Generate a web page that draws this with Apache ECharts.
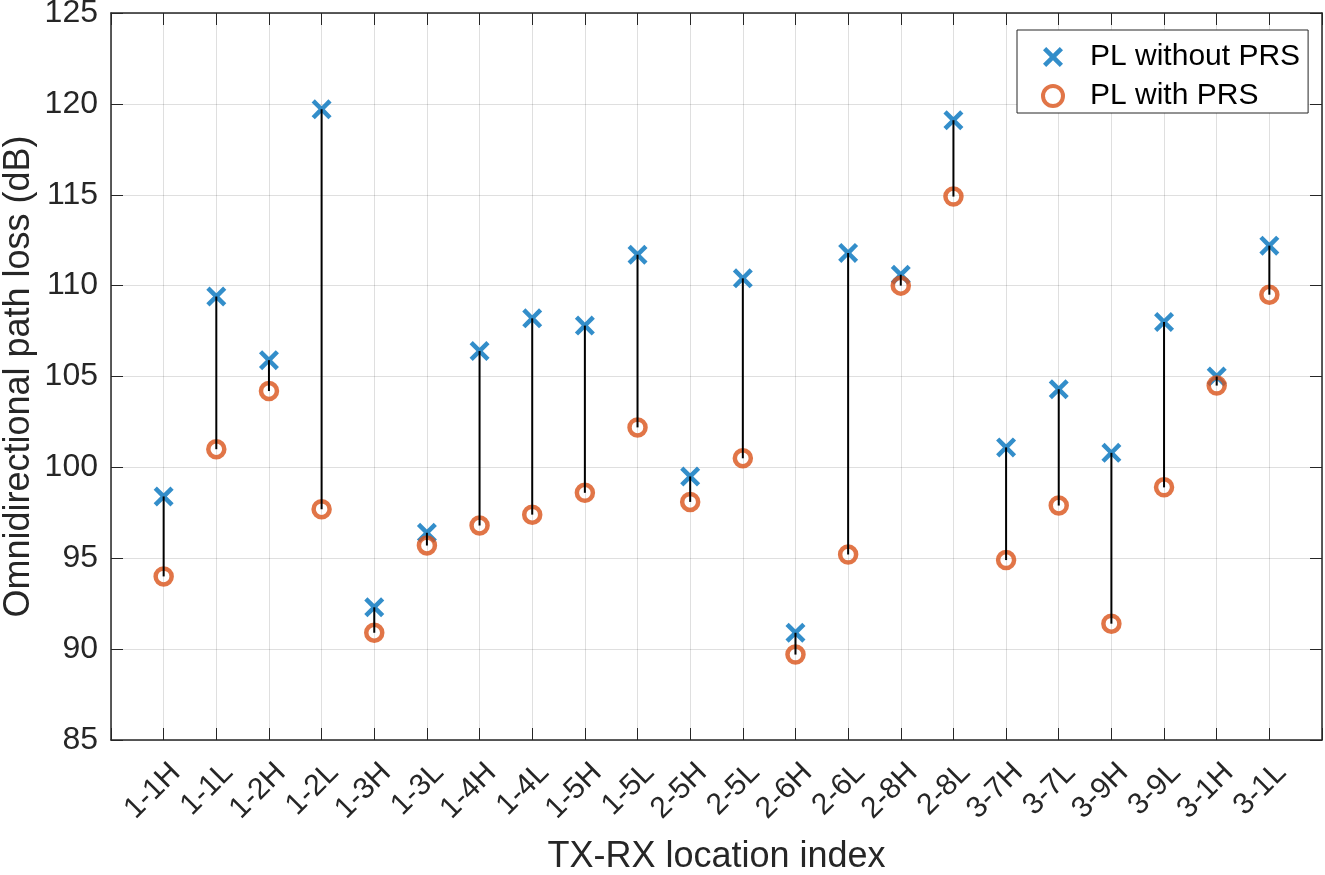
<!DOCTYPE html>
<html>
<head>
<meta charset="utf-8">
<script src="https://cdn.jsdelivr.net/npm/echarts@6/dist/echarts.min.js"></script>
<style>
  html, body { margin: 0; padding: 0; background: #fff; }
  #chart { width: 1325px; height: 875px; }
</style>
</head>
<body>
<div id="chart"></div>
<script>
// categories and path loss values (dB)
var locations = ['1-1H', '1-1L', '1-2H', '1-2L', '1-3H', '1-3L', '1-4H', '1-4L', '1-5H', '1-5L', '2-5H',
                 '2-5L', '2-6H', '2-6L', '2-8H', '2-8L', '3-7H', '3-7L', '3-9H', '3-9L', '3-1H', '3-1L'];
var plWithoutPrs = [98.4, 109.4, 105.9, 119.7, 92.3, 96.4, 106.4, 108.2, 107.8, 111.7, 99.5,
                    110.4, 90.9, 111.8, 110.6, 119.1, 101.1, 104.3, 100.8, 108.0, 105.0, 112.2];
var plWithPrs = [94.0, 101.0, 104.2, 97.7, 90.9, 95.7, 96.8, 97.4, 98.6, 102.2, 98.1,
                 100.5, 89.7, 95.2, 110.0, 114.9, 94.9, 97.9, 91.4, 98.9, 104.5, 109.5];
var yTicks = [85, 125, 5]; // min, max, step

var FONT = "'Liberation Sans', Arial, Helvetica, sans-serif";
var TXT = '#262626';
var GRID = 'rgba(38,38,38,0.15)';

var xMarker = 'path://M1.6,0 L5,3.4 L8.4,0 L10,1.6 L6.6,5 L10,8.4 L8.4,10 L5,6.6 L1.6,10 L0,8.4 L3.4,5 L0,1.6 Z';

var withoutData = [], withData = [], stemData = [];
for (var i = 0; i < locations.length; i++) {
    withoutData.push([i + 1, plWithoutPrs[i]]);
    withData.push([i + 1, plWithPrs[i]]);
    stemData.push([i + 1, plWithoutPrs[i], plWithPrs[i]]);
}

var chart = echarts.init(document.getElementById('chart'));

var option = {
    animation: false,
    backgroundColor: '#fff',
    textStyle: { fontFamily: FONT },
    grid: { left: 111, top: 13, right: 3, bottom: 135, outerBoundsMode: 'none', containLabel: false },
    legend: {
        orient: 'vertical',
        left: 1017,
        top: 30,
        data: [
            { name: 'PL without PRS' },
            { name: 'PL with PRS', itemStyle: { color: 'rgba(255,255,255,0)', borderColor: '#D95319', borderWidth: 4 } }
        ],
        backgroundColor: '#fff',
        borderColor: TXT,
        borderWidth: 1,
        padding: [12, 8, 2, 24],
        itemWidth: 24,
        itemHeight: 20,
        itemGap: 9,
        textStyle: { fontFamily: FONT, fontSize: 30, color: '#000', lineHeight: 30, padding: [0, 0, 0, 20] }
    },
    xAxis: [{
        type: 'value',
        min: 0,
        max: locations.length + 1,
        interval: 1,
        name: 'TX-RX location index',
        nameLocation: 'middle',
        nameGap: 99,
        nameTextStyle: { fontFamily: FONT, fontSize: 36, color: TXT },
        axisLine: { show: true, onZero: false, lineStyle: { color: TXT, width: 1.5 } },
        axisTick: { show: true, inside: true, length: 12, lineStyle: { color: TXT, width: 1 } },
        axisLabel: {
            rotate: 45,
            margin: 40,
            padding: [0, -17, 0, 0],
            fontFamily: FONT,
            fontSize: 30,
            color: TXT,
            formatter: function (v) { return locations[v - 1] || ''; }
        },
        splitLine: { show: true, lineStyle: { color: GRID, width: 1 } }
    }, {
        type: 'value',
        position: 'top',
        min: 0,
        max: locations.length + 1,
        interval: 1,
        axisLine: { show: true, onZero: false, lineStyle: { color: TXT, width: 1.5 } },
        axisTick: { show: true, inside: true, length: 12, lineStyle: { color: TXT, width: 1 } },
        axisLabel: { show: false },
        splitLine: { show: false }
    }],
    yAxis: [{
        type: 'value',
        min: yTicks[0],
        max: yTicks[1],
        interval: yTicks[2],
        name: 'Omnidirectional path loss (dB)',
        nameLocation: 'middle',
        nameGap: 74,
        nameMoveOverlap: false,
        nameTextStyle: { fontFamily: FONT, fontSize: 36, color: TXT },
        axisLine: { show: true, onZero: false, lineStyle: { color: TXT, width: 1.5 } },
        axisTick: { show: true, inside: true, length: 12, lineStyle: { color: TXT, width: 1 } },
        axisLabel: { margin: 13, fontFamily: FONT, fontSize: 32, color: TXT },
        splitLine: { show: true, lineStyle: { color: GRID, width: 1 } }
    }, {
        type: 'value',
        position: 'right',
        min: yTicks[0],
        max: yTicks[1],
        interval: yTicks[2],
        axisLine: { show: true, onZero: false, lineStyle: { color: TXT, width: 1.5 } },
        axisTick: { show: true, inside: true, length: 12, lineStyle: { color: TXT, width: 1 } },
        axisLabel: { show: false },
        splitLine: { show: false }
    }],
    series: [{
        name: 'PL without PRS',
        type: 'scatter',
        data: withoutData,
        symbol: xMarker,
        symbolSize: 20,
        itemStyle: { color: '#0072BD' },
        z: 3
    }, {
        name: 'PL with PRS',
        type: 'scatter',
        data: withData,
        symbol: 'circle',
        symbolSize: 16,
        itemStyle: { color: 'rgba(255,255,255,0)', borderColor: '#D95319', borderWidth: 4.5 },
        z: 3
    }, {
        name: 'stems',
        type: 'custom',
        data: stemData,
        z: 4,
        renderItem: function (params, api) {
            var x = api.value(0);
            var p1 = api.coord([x, api.value(1)]);
            var p2 = api.coord([x, api.value(2)]);
            return {
                type: 'line',
                shape: { x1: p1[0], y1: p1[1], x2: p2[0], y2: p2[1] },
                style: { stroke: '#000', lineWidth: 2 }
            };
        }
    }]
};

chart.setOption(option);
</script>
</body>
</html>
